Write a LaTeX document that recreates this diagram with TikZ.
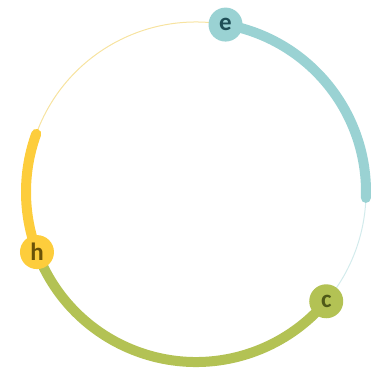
\documentclass[tikz,border=0pt]{standalone}
\usepackage{fontspec}
\setmainfont{Carlito}
\usetikzlibrary{calc}
\definecolor{tealc}{HTML}{9AD2D3}
\definecolor{tealthin}{HTML}{D3EBEC}
\definecolor{yelc}{HTML}{FDCD3C}
\definecolor{yelthin}{HTML}{F7E3A0}
\definecolor{grnc}{HTML}{B3C254}
\definecolor{etext}{HTML}{1F4E56}
\definecolor{htext}{HTML}{6A5208}
\definecolor{ctext}{HTML}{4E5A18}
\tikzset{
  nd/.style={circle, inner sep=0pt, minimum size=34pt, font=\fontsize{25}{25}\selectfont\bfseries},
  thickarc/.style={line width=10pt, line cap=round},
  thinarc/.style={line width=1pt}
}
\begin{document}
\begin{tikzpicture}[x=1pt,y=1pt]
\useasboundingbox (0,0) rectangle (373,374);
\coordinate (O) at (196,182);
\def\R{170}
% thin arcs
\draw[thinarc, yelthin] ([shift={(160:\R)}]O) arc (160:80:\R);
\draw[thinarc, tealthin] ([shift={(-2:\R)}]O) arc (-2:-40:\R);
% thick arcs
\draw[thickarc, tealc] ([shift={(80:\R)}]O) arc (80:-2:\R);
\draw[thickarc, yelc] ([shift={(200.7:\R)}]O) arc (200.7:160:\R);
\draw[thickarc, grnc] ([shift={(200.7:\R)}]O) arc (200.7:320:\R);
% nodes
\node[nd, fill=tealc, text=etext] (e) at ($(O)+(80:\R)$) {e};
\node[nd, fill=yelc, text=htext] (h) at ($(O)+(200.7:\R)$) {h};
\node[nd, fill=grnc, text=ctext] (c) at ($(O)+(320:\R)$) {c};
\end{tikzpicture}
\end{document}
